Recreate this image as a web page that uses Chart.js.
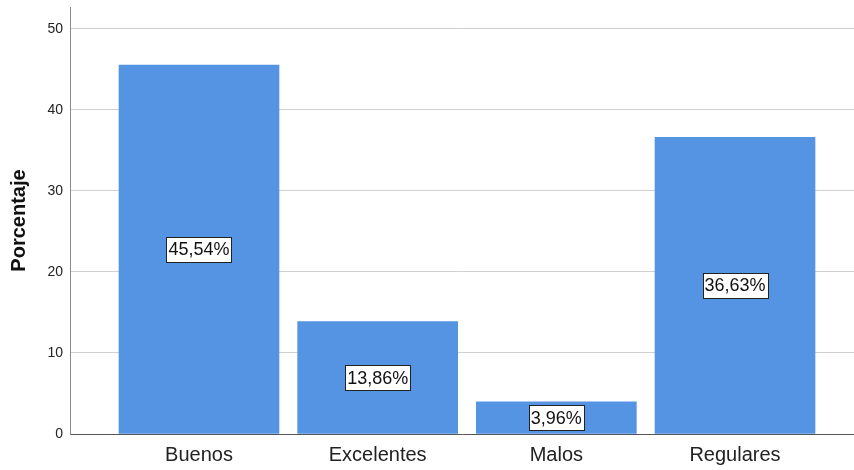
<!DOCTYPE html>
<html>
<head>
<meta charset="utf-8">
<script src="https://cdn.jsdelivr.net/npm/chart.js@4"></script>
<style>
  html, body { margin: 0; padding: 0; background: #fff; }
  #wrap { width: 854px; height: 470px; }
</style>
</head>
<body>
<div id="wrap"><canvas id="chart"></canvas></div>
<script>
const categories = ['Buenos', 'Excelentes', 'Malos', 'Regulares'];
const percentages = [45.54, 13.86, 3.96, 36.63];
const yTicks = [0, 10, 20, 30, 40, 50];

const barColor = '#5594e3';
const fontFamily = '"Liberation Sans", Arial, sans-serif';

// white boxed percentage label in the middle of each bar
const boxLabels = {
  id: 'boxLabels',
  afterDatasetsDraw(chart) {
    const ctx = chart.ctx;
    const meta = chart.getDatasetMeta(0);
    ctx.save();
    ctx.font = '18px ' + fontFamily;
    ctx.textAlign = 'center';
    ctx.textBaseline = 'middle';
    meta.data.forEach((bar, i) => {
      const text = percentages[i].toFixed(2).replace('.', ',') + '%';
      const w = Math.round(ctx.measureText(text).width) + 4;
      const h = 25;
      const cy = (bar.y + bar.base) / 2;
      const x0 = Math.round(bar.x - w / 2) + 0.5;
      const y0 = Math.round(cy - h / 2) + 0.5;
      ctx.fillStyle = '#fff';
      ctx.fillRect(x0, y0, w, h);
      ctx.strokeStyle = '#222';
      ctx.lineWidth = 1;
      ctx.strokeRect(x0, y0, w, h);
      ctx.fillStyle = '#111';
      ctx.fillText(text, bar.x, cy + 1);
    });
    ctx.restore();
  }
};

new Chart(document.getElementById('chart'), {
  type: 'bar',
  data: {
    datasets: [{
      data: categories.map((c, i) => ({ x: i, y: percentages[i] })),
      backgroundColor: barColor,
      borderWidth: 0,
      barThickness: 160
    }]
  },
  options: {
    responsive: true,
    maintainAspectRatio: false,
    animation: false,
    layout: { padding: { top: 7, right: 0, left: 0, bottom: 0 } },
    plugins: {
      legend: { display: false },
      tooltip: { enabled: false }
    },
    scales: {
      x: {
        type: 'linear',
        offset: false,
        min: -0.722,
        max: 3.666,
        afterBuildTicks: (scale) => { scale.ticks = categories.map((c, i) => ({ value: i })); },
        afterFit: (scale) => { scale.height = 36; scale.paddingLeft = 0; scale.paddingRight = 0; },
        grid: { display: false, drawTicks: false, offset: false },
        border: { display: true, color: '#555', width: 1 },
        ticks: {
          padding: 9,
          color: '#222',
          font: { size: 20, family: fontFamily },
          callback: (v) => categories[v]
        }
      },
      y: {
        min: 0,
        max: 52.7,
        afterBuildTicks: (scale) => { scale.ticks = yTicks.map(v => ({ value: v })); },
        afterFit: (scale) => { scale.width = 70; scale.paddingTop = 0; scale.paddingBottom = 0; },
        grid: { color: '#cfcfcf', drawTicks: false },
        border: { display: true, color: '#888', width: 1 },
        ticks: {
          padding: 7,
          color: '#222',
          font: { size: 14, family: fontFamily }
        },
        title: {
          display: true,
          text: 'Porcentaje',
          color: '#111',
          padding: { top: 7, bottom: 0 },
          font: { size: 20, weight: 'bold', family: fontFamily }
        }
      }
    }
  },
  plugins: [boxLabels]
});
</script>
</body>
</html>
